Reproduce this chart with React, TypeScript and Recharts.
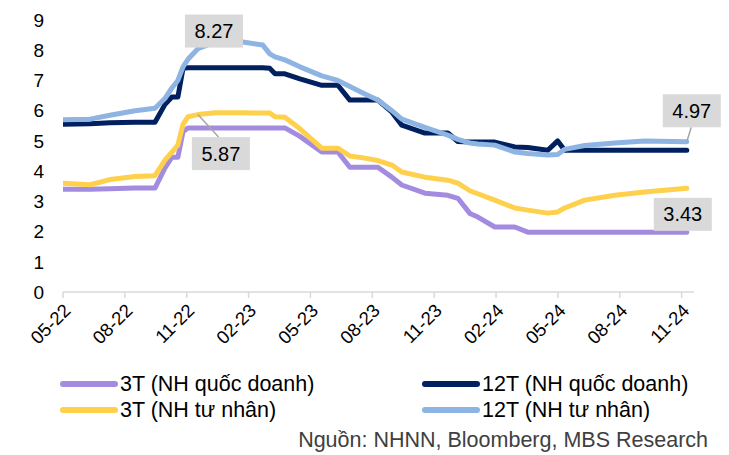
import React from 'react';
import { LineChart, Line, XAxis, YAxis } from 'recharts';

// Months elapsed since May 2022 (x positions of the readings)
const monthOffsets = [
  0, 1.31, 2.28, 3.49, 4.46, 4.94, 5.28, 5.57, 5.82, 6.06, 6.54, 7.37, 8.72, 9.69, 10.03, 10.28,
  10.76, 11.49, 12.55, 13.33, 13.91, 14.64, 15.27, 15.95, 16.43, 17.55, 18.66, 19.15, 19.73, 20.12,
  20.94, 21.91, 22.54, 23.51, 23.99, 24.33, 25.3, 26.76, 28.21, 30.25,
];

const rate3TStateOwned = [
  3.4, 3.4, 3.42, 3.44, 3.44, 4.1, 4.46, 4.46, 5.3, 5.43, 5.43, 5.43, 5.43, 5.43, 5.43, 5.43,
  5.43, 5.15, 4.63, 4.63, 4.13, 4.13, 4.13, 3.8, 3.54, 3.27, 3.2, 3.1, 2.6, 2.48,
  2.15, 2.15, 1.98, 1.98, 1.98, 1.98, 1.98, 1.98, 1.98, 1.98,
];
const rate12TStateOwned = [
  5.55, 5.57, 5.6, 5.62, 5.62, 6.2, 6.45, 6.45, 7.4, 7.42, 7.42, 7.42, 7.42, 7.42, 7.4, 7.22,
  7.22, 7.05, 6.84, 6.84, 6.35, 6.35, 6.35, 5.95, 5.52, 5.26, 5.26, 4.98, 4.96, 4.96,
  4.96, 4.8, 4.78, 4.69, 5.0, 4.69, 4.69, 4.69, 4.69, 4.69,
];
const rate3TPrivate = [
  3.6, 3.55, 3.72, 3.82, 3.85, 4.36, 4.63, 4.86, 5.55, 5.8, 5.87, 5.93, 5.93, 5.92, 5.92, 5.8,
  5.78, 5.4, 4.76, 4.76, 4.5, 4.43, 4.35, 4.2, 3.97, 3.8, 3.7, 3.6, 3.35, 3.25,
  3.04, 2.78, 2.71, 2.61, 2.65, 2.78, 3.04, 3.2, 3.31, 3.43,
];
const rate12TPrivate = [
  5.7, 5.72, 5.85, 6.0, 6.08, 6.4, 6.75, 7.0, 7.45, 7.7, 8.05, 8.27, 8.27, 8.17, 7.88, 7.78,
  7.68, 7.45, 7.15, 7.0, 6.8, 6.55, 6.35, 6.0, 5.72, 5.45, 5.19, 5.05, 4.93, 4.9,
  4.86, 4.63, 4.58, 4.53, 4.55, 4.72, 4.85, 4.93, 5.0, 4.97,
];

const tickPositions = [0, 3, 6, 9, 12, 15, 18, 21, 24, 27, 30];
const tickLabels = ['05-22', '08-22', '11-22', '02-23', '05-23', '08-23', '11-23', '02-24', '05-24', '08-24', '11-24'];
const yTicks = [0, 1, 2, 3, 4, 5, 6, 7, 8, 9];

const seriesNames = ['3T (NH quốc doanh)', '12T (NH quốc doanh)', '3T (NH tư nhân)', '12T (NH tư nhân)'];
const seriesKeys = ['qd3', 'qd12', 'tn3', 'tn12'];
const seriesColors = ['#A38CE0', '#002060', '#FFD04C', '#8EB4E3'];

const data = monthOffsets.map((m, i) => ({
  m,
  qd3: rate3TStateOwned[i],
  qd12: rate12TStateOwned[i],
  tn3: rate3TPrivate[i],
  tn12: rate12TPrivate[i],
}));

const FONT = '"Liberation Sans", Arial, sans-serif';

type Callout = { index: number; dx: number; dy: number; leader: boolean };

const makeLabel = (callouts: Callout[]) => (props: any) => {
  const { x, y, index, value } = props;
  const c = callouts.find((k) => k.index === index);
  if (!c || x == null || y == null) return <g key={`l-${index}`} />;
  const w = 58;
  const h = 33;
  const cx = x + c.dx;
  const cy = y + c.dy;
  const ey = c.dy > 0 ? cy - h / 2 : cy + h / 2;
  return (
    <g key={`l-${index}`}>
      {c.leader && <line x1={x} y1={y} x2={cx + (x - cx) * 0.1} y2={ey} stroke="#A6A6A6" strokeWidth={1.5} />}
      <rect x={cx - w / 2} y={cy - h / 2} width={w} height={h} fill="#D9D9D9" />
      <text x={cx} y={cy} textAnchor="middle" dominantBaseline="central" fontSize={20} fontFamily={FONT} fill="#000">
        {Number(value).toFixed(2)}
      </text>
    </g>
  );
};

const last = monthOffsets.length - 1;
const callouts: Record<string, Callout[]> = {
  qd3: [],
  qd12: [],
  tn3: [
    { index: 10, dx: 23, dy: 39, leader: true },
    { index: last, dx: -4, dy: 26, leader: false },
  ],
  tn12: [
    { index: 11, dx: -1, dy: -11, leader: false },
    { index: last, dx: 5, dy: -31, leader: true },
  ],
};

const XTick = (props: any) => {
  const { x, y, payload } = props;
  const idx = tickPositions.indexOf(payload.value);
  const label = idx >= 0 ? tickLabels[idx] : '';
  const ax = x - 1;
  const ay = y + 2;
  return (
    <text
      x={ax}
      y={ay}
      transform={`rotate(-45 ${ax} ${ay})`}
      textAnchor="end"
      dy="0.75em"
      fontSize={18.5}
      fontFamily={FONT}
      fill="#000"
    >
      {label}
    </text>
  );
};

export default function App() {
  return (
    <div style={{ position: 'absolute', left: 0, top: 0, width: 729, height: 455, background: '#fff', fontFamily: FONT }}>
      <LineChart width={729} height={455} data={data} margin={{ top: 20, right: 35, left: 23, bottom: 103 }}>
        <XAxis
          dataKey="m"
          type="number"
          domain={[0, 30.6]}
          ticks={tickPositions}
          interval={0}
          tick={<XTick />}
          tickSize={6}
          tickLine={{ stroke: '#D9D9D9', strokeWidth: 1.5 }}
          axisLine={{ stroke: '#D9D9D9', strokeWidth: 1.5 }}
          height={60}
          allowDataOverflow
        />
        <YAxis
          type="number"
          domain={[0, 9]}
          ticks={yTicks}
          interval={0}
          axisLine={false}
          tickLine={false}
          width={40}
          tickMargin={13}
          tick={{ fontSize: 19, fill: '#000', fontFamily: FONT }}
        />
        {seriesKeys.map((k, i) => (
          <Line
            key={k}
            dataKey={k}
            name={seriesNames[i]}
            stroke={seriesColors[i]}
            strokeWidth={5}
            strokeLinecap="round"
            strokeLinejoin="round"
            dot={false}
            type="linear"
            isAnimationActive={false}
            label={callouts[k].length ? makeLabel(callouts[k]) : false}
          />
        ))}
      </LineChart>
      {seriesNames.map((name, i) => {
        const col = i % 2;
        const row = Math.floor(i / 2);
        const left = col === 0 ? 60 : 422;
        const top = row === 0 ? 372 : 398;
        return (
          <div key={name} style={{ position: 'absolute', left, top, height: 24, display: 'flex', alignItems: 'center' }}>
            <svg width={58} height={10} style={{ display: 'block' }}>
              <line x1={3} y1={5} x2={55} y2={5} stroke={seriesColors[i]} strokeWidth={6} strokeLinecap="round" />
            </svg>
            <span style={{ fontSize: 21.5, color: '#000', marginLeft: 2, whiteSpace: 'nowrap', lineHeight: '24px' }}>{name}</span>
          </div>
        );
      })}
      <div style={{ position: 'absolute', right: 21, top: 428, fontSize: 21.5, color: '#404040', whiteSpace: 'nowrap', lineHeight: '24px' }}>
        Nguồn: NHNN, Bloomberg, MBS Research
      </div>
    </div>
  );
}
